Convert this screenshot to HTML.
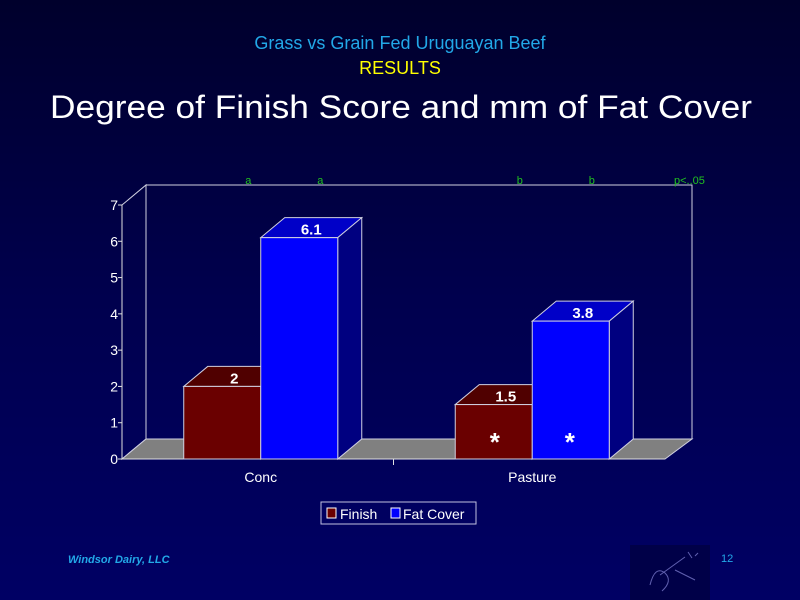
<!DOCTYPE html>
<html><head><meta charset="utf-8"><style>
html,body{margin:0;padding:0;width:800px;height:600px;overflow:hidden;background:#000050}
svg text{font-family:"Liberation Sans",sans-serif}
</style></head><body>
<svg id="chart" width="800" height="600" viewBox="0 0 800 600" xmlns="http://www.w3.org/2000/svg">
<defs><linearGradient id="bg" x1="0" y1="0" x2="0" y2="1"><stop offset="0" stop-color="#00002c"/><stop offset="0.5" stop-color="#00004e"/><stop offset="1" stop-color="#000064"/></linearGradient></defs>
<rect width="800" height="600" fill="url(#bg)"/>
<text x="400" y="49" font-size="18" fill="#22a8e8" text-anchor="middle">Grass vs Grain Fed Uruguayan Beef</text>
<text x="400" y="74" font-size="18" fill="#ffff00" text-anchor="middle">RESULTS</text>
<text x="401" y="118" font-size="32" fill="#ffffff" text-anchor="middle" textLength="702" lengthAdjust="spacingAndGlyphs">Degree of Finish Score and mm of Fat Cover</text>
<g id="plot"></g>
<g>
<rect x="321" y="502" width="155" height="22" fill="#000060" stroke="#c0c0e0" stroke-width="1"/>
<rect x="327" y="508" width="9" height="10" fill="#6a0000" stroke="#fff"/>
<text x="340" y="519" font-size="14" fill="#fff">Finish</text>
<rect x="391" y="508" width="9" height="10" fill="#0000ff" stroke="#fff"/>
<text x="403" y="519" font-size="14" fill="#fff">Fat Cover</text>
</g>
<text x="68" y="563" font-size="11" font-weight="bold" font-style="italic" fill="#22a8e8">Windsor Dairy, LLC</text>
<text x="721" y="562" font-size="11" fill="#22a8e8">12</text>
<g>
<rect x="630" y="545" width="80" height="55" fill="#000048"/>
<path d="M650 585 q5 -20 15 -12 q8 8 -3 18 M660 575 l25 -18 M675 570 l20 10 M688 552 l4 6 M695 556 l3 -3" stroke="#6060b0" fill="none" stroke-width="1"/>
</g>
</svg>
<script>
const categories=["Conc","Pasture"];
const finishValues=[2,1.5];
const fatCoverValues=[6.1,3.8];
const yTicks=[0,1,2,3,4,5,6,7];
const finishLabels=["2","1.5"];
const fatLabels=["6.1","3.8"];
const sigFinish=["a","b"];
const sigFat=["a","b"];
const sigNote="p<..05";

const NS="http://www.w3.org/2000/svg";
const g=document.getElementById('plot');
const X0=122,X1=665,Y0=459,YT=205,DX=24,DY=-20,YMAX=7;
function y(v){return Y0-(Y0-YT)*v/YMAX;}
const catW=(X1-X0)/categories.length;
function catX(i){return X0+catW*(i+0.5)+3;}
const BW=77;
function mk(tag,attrs,name){const e=document.createElementNS(NS,tag);for(const k in attrs)e.setAttribute(k,attrs[k]);


g.appendChild(e);return e;}
function pts(a){return a.map(p=>p.join(',')).join(' ');}
mk('polygon',{points:pts([[X0+DX,Y0+DY],[X0+DX,y(YMAX)+DY],[X1+DX+3,y(YMAX)+DY],[X1+DX+3,Y0+DY]]),fill:'none',stroke:'#d0d0e0','stroke-width':1},'back-wall');
mk('polygon',{points:pts([[X0,Y0],[X0,y(YMAX)],[X0+DX,y(YMAX)+DY],[X0+DX,Y0+DY]]),fill:'none',stroke:'#d0d0e0','stroke-width':1},'side-wall');
mk('polygon',{points:pts([[X0,Y0],[X0+DX,Y0+DY],[X1+DX+3,Y0+DY],[X1,Y0]]),fill:'#808080',stroke:'#d0d0e0','stroke-width':1},'floor');
mk('line',{x1:X0,y1:Y0,x2:X0,y2:y(YMAX),stroke:'#e0e0e0'},'y-axis');
mk('line',{x1:X0,y1:Y0,x2:X1,y2:Y0,stroke:'#e0e0e0'},'x-axis');
yTicks.forEach(t=>{
 mk('line',{x1:X0-4,y1:y(t),x2:X0,y2:y(t),stroke:'#e0e0e0'},'y-tick');
 const tx=mk('text',{x:X0-4,y:y(t)+5,'font-size':14,fill:'#fff','text-anchor':'end'},'y-tick-label');tx.textContent=t;
});
mk('line',{x1:(X0+X1)/2,y1:Y0,x2:(X0+X1)/2,y2:Y0+6,stroke:'#e0e0e0'},'x-tick');
function bar(x,v,front,top,side,name){
 const t=y(v);
 mk('polygon',{points:pts([[x,t],[x+DX,t+DY],[x+BW+DX,t+DY],[x+BW,t]]),fill:top,stroke:'#d0d0e0','stroke-width':1},name+'-top');
 mk('polygon',{points:pts([[x+BW,Y0],[x+BW,t],[x+BW+DX,t+DY],[x+BW+DX,Y0+DY]]),fill:side,stroke:'#d0d0e0','stroke-width':1},name+'-side');
 mk('rect',{x:x,y:t,width:BW,height:Y0-t,fill:front,stroke:'#d0d0e0','stroke-width':1},name);
}
categories.forEach((c,i)=>{
 const cx=catX(i);
 bar(cx-BW,finishValues[i],'#6a0000','#500000','#400000','bar-finish-'+c.toLowerCase());
 bar(cx,fatCoverValues[i],'#0000ff','#0000c8','#000080','bar-fat-cover-'+c.toLowerCase());
 let l=mk('text',{x:cx-BW/2+DX/2,y:y(finishValues[i])+DY/2+7,'font-size':15,'font-weight':'bold',fill:'#fff','text-anchor':'middle'},'value-label-finish');l.textContent=finishLabels[i];
 l=mk('text',{x:cx+BW/2+DX/2,y:y(fatCoverValues[i])+DY/2+7,'font-size':15,'font-weight':'bold',fill:'#fff','text-anchor':'middle'},'value-label-fat-cover');l.textContent=fatLabels[i];
 l=mk('text',{x:cx-BW/2+DX/2+14,y:184,'font-size':11,fill:'#20c020','text-anchor':'middle'},'significance-finish');l.textContent=sigFinish[i];
 l=mk('text',{x:cx+BW/2+DX/2+9,y:184,'font-size':11,fill:'#20c020','text-anchor':'middle'},'significance-fat-cover');l.textContent=sigFat[i];
 l=mk('text',{x:cx,y:Y0+23,'font-size':14,fill:'#fff','text-anchor':'middle'},'x-category-label');l.textContent=c;
});
let n=mk('text',{x:674,y:184,'font-size':11,fill:'#20c020'},'significance-note');n.textContent=sigNote;
[catX(1)-BW/2+1,catX(1)+BW/2-1].forEach(ax=>{const s=mk('text',{x:ax,y:451,'font-size':26,'font-weight':'bold',fill:'#fff','text-anchor':'middle'},'significance-asterisk');s.textContent='*';});
</script>
</body></html>
